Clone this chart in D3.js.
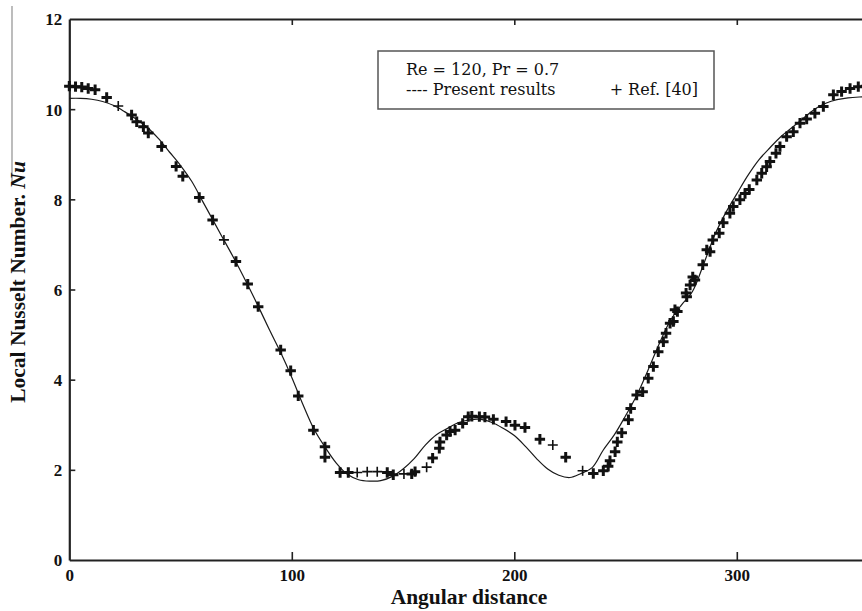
<!DOCTYPE html>
<html>
<head>
<meta charset="utf-8">
<script src="https://cdn.jsdelivr.net/npm/d3@7"></script>
<style>
  html, body { margin: 0; padding: 0; background: #fff; overflow: hidden; }
  svg { display: block; }
  .tick-label { font-family: "Liberation Serif", "Times New Roman", serif; font-weight: bold; font-size: 17px; fill: #111; }
  .axis-title { font-family: "Liberation Serif", "Times New Roman", serif; font-weight: bold; font-size: 21.5px; fill: #111; }
  .legend-text { font-family: "DejaVu Serif", "Liberation Serif", serif; font-size: 16px; fill: #111; }
</style>
</head>
<body>
<svg id="chart" width="862" height="611"></svg>
<script>

/// tick values
const xTicks = [0, 100, 200, 300];
const yTicks = [0, 2, 4, 6, 8, 10, 12];

/// present results (solid line)
const presentAngle = [0, 5, 10, 15, 20, 25, 30, 35, 40, 45, 50, 55, 60, 65, 70, 75, 80, 85, 90, 95,
  100, 105, 110, 115, 120, 125, 130, 135, 140, 145, 150, 155, 160, 165, 170, 175, 180, 185, 190, 195,
  200, 205, 210, 215, 220, 225, 230, 235, 240, 245, 250, 255, 260, 265, 270, 275, 280, 285, 290, 295,
  300, 305, 310, 315, 320, 325, 330, 335, 340, 345, 350, 355, 360];
const presentNu = [10.24, 10.24, 10.22, 10.17, 10.08, 9.94, 9.78, 9.6, 9.35, 9.05, 8.75, 8.4, 7.95, 7.5, 7.05, 6.6, 6.12, 5.62, 5.1, 4.6,
  4.05, 3.45, 2.9, 2.5, 2.15, 1.9, 1.78, 1.75, 1.76, 1.85, 2.02, 2.25, 2.55, 2.78, 2.92, 3.05, 3.11, 3.12, 3.05, 2.92,
  2.76, 2.52, 2.25, 2.02, 1.88, 1.83, 1.92, 2.05, 2.44, 2.78, 3.2, 3.65, 4.2, 4.78, 5.3, 5.65, 5.95, 6.55, 7.2, 7.7,
  8.12, 8.53, 8.88, 9.15, 9.4, 9.6, 9.8, 10.0, 10.13, 10.21, 10.25, 10.27, 10.28];

/// Ref. [40] markers (heavy crosses)
const refAngle = [0, 2.8, 5.6, 8.5, 11.6, 16.8, 28, 30.3, 33.3, 35.5, 41.5, 48, 51, 58.4, 64.4, 74.9, 80.2, 84.9, 95, 99.5,
  102.9, 109.7, 114.9, 114.9, 121.7, 125.4, 142.9, 145.6, 153.9, 155.4, 163.3, 166.3, 166.6, 169.6, 171.1, 173.4, 176.8, 179.3, 180.9, 184.3,
  186.8, 190.6, 196.3, 200.3, 204.8, 211.5, 223.1, 235.5, 240, 242.2, 243, 245.3, 246.3, 248.3, 251.3, 252.3, 255, 257.7, 260.2, 262.5,
  264.7, 267, 268.2, 270, 271.5, 272.2, 273.3, 277.2, 277.5, 279, 280.2, 281.2, 284.7, 286.5, 288, 289.2, 292.1, 293.9, 296.9, 298.4,
  301.4, 303.7, 305.6, 309, 311.2, 313.4, 314.9, 317.6, 319.4, 322.4, 325.4, 328.4, 331.4, 335.1, 338.9, 343.4, 347.1, 350.9, 354.6, 358];
const refNu = [10.51, 10.5, 10.49, 10.46, 10.43, 10.26, 9.87, 9.72, 9.61, 9.47, 9.17, 8.73, 8.51, 8.04, 7.54, 6.62, 6.12, 5.62, 4.66, 4.2,
  3.64, 2.88, 2.51, 2.28, 1.94, 1.94, 1.94, 1.89, 1.91, 1.96, 2.26, 2.48, 2.62, 2.77, 2.85, 2.88, 3.03, 3.18, 3.19, 3.18,
  3.17, 3.12, 3.07, 2.99, 2.94, 2.68, 2.28, 1.92, 1.98, 2.08, 2.2, 2.4, 2.62, 2.82, 3.11, 3.36, 3.66, 3.73, 4.03, 4.29,
  4.62, 4.84, 5.03, 5.25, 5.29, 5.55, 5.51, 5.92, 5.84, 6.1, 6.28, 6.21, 6.55, 6.88, 6.84, 7.1, 7.25, 7.48, 7.69, 7.84,
  7.99, 8.13, 8.22, 8.43, 8.58, 8.72, 8.84, 9.02, 9.17, 9.39, 9.5, 9.69, 9.78, 9.91, 10.06, 10.32, 10.39, 10.46, 10.5, 10.51];

/// Ref. [40] markers (light crosses)
const refThinAngle = [22, 69.5, 129.4, 133.9, 138.4, 150.4, 160.6, 217.3, 230.7];
const refThinNu = [10.07, 7.1, 1.94, 1.96, 1.96, 1.91, 2.06, 2.55, 1.98];

const legendLines = ['Re = 120, Pr = 0.7', '---- Present results', '+ Ref. [40]'];

const svg = d3.select('#chart');

/// plot frame: the right edge of the figure is cut by the window
const plotLeft = 69.3, plotRight = 870.3, plotTop = 19, plotBottom = 560;

const x = d3.scaleLinear().domain([0, 360]).range([plotLeft, plotRight]);
const y = d3.scaleLinear().domain([0, 12]).range([plotBottom, plotTop]);

/// scan artefact at the far left
svg.append('line')
  .attr('x1', 12).attr('x2', 12).attr('y1', 6).attr('y2', 182)
  .attr('stroke', '#999').attr('stroke-width', 1.3);

/// axes (ticks pointing inward)
let xAxis = svg.append('g')
  .attr('transform', 'translate(0,' + plotBottom + ')')
  .call(d3.axisBottom(x).tickValues(xTicks).tickSizeInner(-8).tickSizeOuter(0).tickPadding(9));

let xTop = svg.append('g')
  .attr('transform', 'translate(0,' + plotTop + ')')
  .call(d3.axisTop(x).tickValues(xTicks.slice(1)).tickSizeInner(-6).tickSizeOuter(0).tickFormat(''));

let yAxis = svg.append('g')
  .attr('transform', 'translate(' + plotLeft + ',0)')
  .call(d3.axisLeft(y).tickValues(yTicks).tickSizeInner(-6).tickSizeOuter(0).tickPadding(7));

[xAxis, xTop, yAxis].forEach(function(g) {
  g.select('.domain').attr('stroke', '#222').attr('stroke-width', 2.2);
  g.selectAll('.tick line').attr('stroke', '#222').attr('stroke-width', 1.6);
  g.selectAll('.tick text').attr('class', 'tick-label').attr('fill', null);
});
yAxis.selectAll('.tick text').attr('dy', '0.35em');
/// hide the 0 / 12 tick marks that would sit on the frame
xAxis.selectAll('.tick').filter(function(d) { return d === 0; }).select('line').remove();
yAxis.selectAll('.tick').filter(function(d) { return d === 0 || d === 12; }).select('line').remove();

/// present results line
let lineData = presentAngle.map(function(a, i) { return [a, presentNu[i]]; });
let line = d3.line()
  .x(function(d) { return x(d[0]); })
  .y(function(d) { return y(d[1]); })
  .curve(d3.curveCatmullRom);

svg.append('path')
  .datum(lineData)
  .attr('d', line)
  .attr('fill', 'none')
  .attr('stroke', '#1a1a1a')
  .attr('stroke-width', 1.2);

/// cross markers
function drawCrosses(angles, values, size, weight) {
  let pts = angles.map(function(a, i) { return [a, values[i]]; });
  svg.append('g').selectAll('path')
    .data(pts)
    .enter().append('path')
    .attr('d', function(d) {
      let cx = x(d[0]), cy = y(d[1]);
      return 'M' + (cx - size) + ',' + cy + 'H' + (cx + size) + 'M' + cx + ',' + (cy - size) + 'V' + (cy + size);
    })
    .attr('stroke', '#111')
    .attr('stroke-width', weight)
    .attr('fill', 'none');
}
drawCrosses(refAngle, refNu, 5.2, 3);
drawCrosses(refThinAngle, refThinNu, 5, 1.6);

/// legend box
let legend = svg.append('g');
legend.append('rect')
  .attr('x', 378).attr('y', 51).attr('width', 336).attr('height', 58)
  .attr('fill', '#fff').attr('stroke', '#555').attr('stroke-width', 1.5);
legend.append('text').attr('class', 'legend-text').attr('x', 406).attr('y', 75).text(legendLines[0]);
legend.append('text').attr('class', 'legend-text').attr('x', 406).attr('y', 95).text(legendLines[1]);
legend.append('text').attr('class', 'legend-text').attr('x', 698).attr('y', 95)
  .attr('text-anchor', 'end').text(legendLines[2]);

/// axis titles
svg.append('text')
  .attr('class', 'axis-title')
  .attr('x', 469).attr('y', 604)
  .attr('text-anchor', 'middle')
  .text('Angular distance');

let yTitle = svg.append('text')
  .attr('class', 'axis-title')
  .attr('transform', 'translate(25,282) rotate(-90)')
  .attr('text-anchor', 'middle');
yTitle.append('tspan').text('Local Nusselt Number. ');
yTitle.append('tspan').attr('font-style', 'italic').text('Nu');

</script>
</body>
</html>
